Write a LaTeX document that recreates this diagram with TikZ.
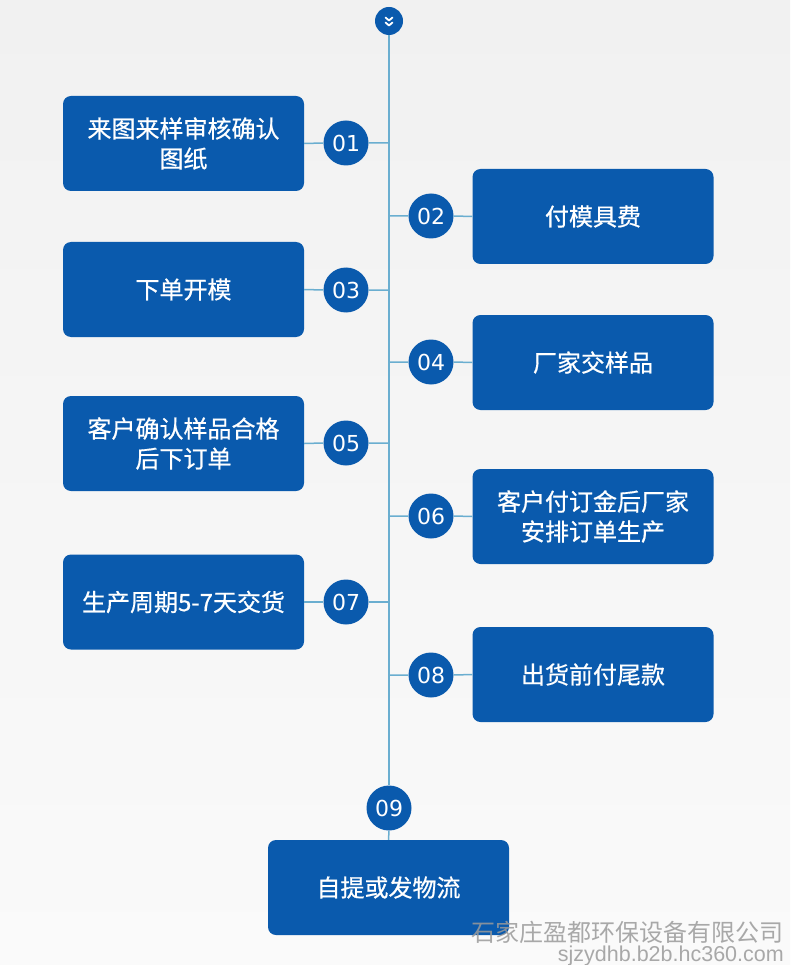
\documentclass[tikz,border=0pt]{standalone}
\usepackage{fontspec}
\newfontfamily\cjk[FakeBold=0.6]{Noto Sans CJK SC}
\newfontfamily\cjkw{Noto Sans CJK SC}
\newfontfamily\numf{DejaVu Sans}
\newfontfamily\latw{Liberation Sans}
\definecolor{boxblue}{HTML}{0A5AAD}
\definecolor{spine}{HTML}{6AAED0}
\definecolor{bgtop}{HTML}{F1F1F1}
\definecolor{bgbot}{HTML}{FAFAFA}
\definecolor{wmgray}{HTML}{9A9A9A}
\tikzset{
  stepbox/.style={draw=none, fill=boxblue, rounded corners=8pt, minimum width=241pt, minimum height=95pt,
    text=white, font=\cjk\fontsize{24}{30}\selectfont, align=center, inner sep=0pt},
  numdot/.style={circle, fill=boxblue, minimum size=45pt, inner sep=0pt, text=white,
    font=\numf\fontsize{22}{22}\selectfont},
  link/.style={draw=spine, line width=1.5pt},
}
\begin{document}
\begin{tikzpicture}[x=1pt,y=-1pt]
\useasboundingbox (0,0) rectangle (790,965);
\shade[top color=bgtop, bottom color=bgbot] (0,0) rectangle (790,965);
% top icon
\node[circle, fill=boxblue, minimum size=28pt, inner sep=0pt] (top) at (389,21) {};
% spine coordinates
\coordinate (s1) at (389,143);
\coordinate (s2) at (389,216);
\coordinate (s3) at (389,290);
\coordinate (s4) at (389,362);
\coordinate (s5) at (389,443);
\coordinate (s6) at (389,516);
\coordinate (s7) at (389,602);
\coordinate (s8) at (389,675);
% boxes
\node[stepbox] (b1) at (183.5,143.5) {来图来样审核确认\\图纸};
\node[stepbox] (b2) at (593,216.5) {付模具费};
\node[stepbox] (b3) at (183.5,289.5) {下单开模};
\node[stepbox] (b4) at (593,362.5) {厂家交样品};
\node[stepbox] (b5) at (183.5,443.5) {客户确认样品合格\\后下订单};
\node[stepbox] (b6) at (593,516.5) {客户付订金后厂家\\安排订单生产};
\node[stepbox] (b7) at (183.5,602) {生产周期5-7天交货};
\node[stepbox] (b8) at (593,674.5) {出货前付尾款};
\node[stepbox] (b9) at (388.5,887.5) {自提或发物流};
% number circles
\node[numdot] (c1) at (346,143) {01};
\node[numdot] (c2) at (431,216) {02};
\node[numdot] (c3) at (346,290) {03};
\node[numdot] (c4) at (431,362) {04};
\node[numdot] (c5) at (346,443) {05};
\node[numdot] (c6) at (431,516) {06};
\node[numdot] (c7) at (346,602) {07};
\node[numdot] (c8) at (431,675) {08};
\node[numdot] (c9) at (389,808) {09};
% connectors
\path[link] (top.south) -- (c9.north);
\path[link] (b1.east) -- (c1.west) (c1.east) -- (s1);
\path[link] (s2) -- (c2.west) (c2.east) -- (b2.west);
\path[link] (b3.east) -- (c3.west) (c3.east) -- (s3);
\path[link] (s4) -- (c4.west) (c4.east) -- (b4.west);
\path[link] (b5.east) -- (c5.west) (c5.east) -- (s5);
\path[link] (s6) -- (c6.west) (c6.east) -- (b6.west);
\path[link] (b7.east) -- (c7.west) (c7.east) -- (s7);
\path[link] (s8) -- (c8.west) (c8.east) -- (b8.west);
\path[link] (c9.south) -- (b9.north);
% chevrons
\draw[white, line width=1.8pt, line cap=round, line join=round]
  (385.5,17.5) -- (389,20.5) -- (392.5,17.5)
  (385.5,22.5) -- (389,25.5) -- (392.5,22.5);
% watermark
\node[anchor=east, inner sep=0pt, text=wmgray, opacity=0.85, font=\cjkw\fontsize{24}{24}\selectfont] (wm1) at (784,932) {石家庄盈都环保设备有限公司};
\node[anchor=east, inner sep=0pt, text=wmgray, opacity=0.85, font=\latw\fontsize{21.5}{21.5}\selectfont] (wm2) at (784,956) {sjzydhb.b2b.hc360.com};
\end{tikzpicture}
\end{document}
